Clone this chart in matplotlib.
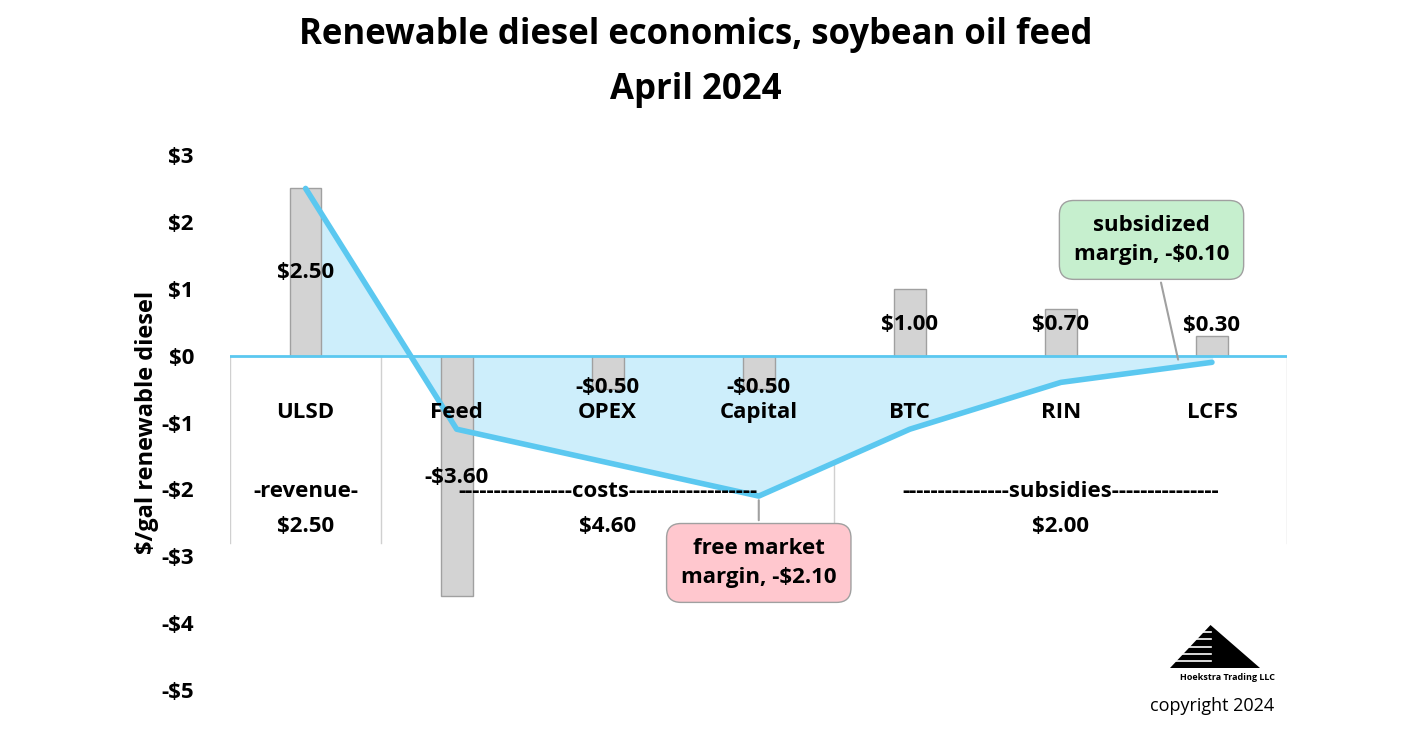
import matplotlib
matplotlib.use('Agg')
import matplotlib.pyplot as plt
import numpy as np
from matplotlib.patches import Polygon

plt.rcParams['font.family'] = ['Open Sans', 'DejaVu Sans']

categories = ['ULSD', 'Feed', 'OPEX', 'Capital', 'BTC', 'RIN', 'LCFS']
values = [2.50, -3.60, -0.50, -0.50, 1.00, 0.70, 0.30]
value_labels = ['$2.50', '-$3.60', '-$0.50', '-$0.50', '$1.00', '$0.70', '$0.30']
label_y = [1.24, -1.82, -0.48, -0.48, 0.46, 0.46, 0.45]
yticks = [3, 2, 1, 0, -1, -2, -3, -4, -5]
ytick_labels = ['$3', '$2', '$1', '$0', '-$1', '-$2', '-$3', '-$4', '-$5']

cum = np.cumsum(values)
x = np.arange(len(categories))

fig = plt.figure(figsize=(14.08, 7.38), dpi=100)
ax = fig.add_axes([0.1634, 0.065, 0.751, 0.725])
ax.set_xlim(-0.5, 6.5)
ax.set_ylim(-5, 3)

# table-like grid lines
for xv in [-0.5, 0.5, 3.5, 6.5]:
    ax.plot([xv, xv], [0, -2.8], color='#d0d0d0', lw=1, zorder=1)

ax.fill_between(x, cum, 0, color='#cdeefb', zorder=1)
ax.bar(x, values, width=0.21, color='#d3d3d3', edgecolor='#a0a0a0', lw=1, zorder=2)
ax.plot([-0.5, 6.5], [0, 0], color='#5bc8f0', lw=2, zorder=3)
ax.plot(x, cum, color='#5bc8f0', lw=4, zorder=3, solid_capstyle='round')

fs = 16
for xi, lab, ly in zip(x, value_labels, label_y):
    ax.text(xi, ly, lab, ha='center', va='center', fontsize=fs, fontweight='bold', zorder=5)
for xi, c in zip(x, categories):
    ax.text(xi, -0.85, c, ha='center', va='center', fontsize=fs, fontweight='bold', zorder=5)

ax.text(0, -2.03, '-revenue-', ha='center', va='center', fontsize=fs, fontweight='bold')
ax.text(0, -2.55, '$2.50', ha='center', va='center', fontsize=fs, fontweight='bold')
ax.text(2, -2.03, '----------------costs------------------', ha='center', va='center', fontsize=fs, fontweight='bold')
ax.text(2, -2.55, '$4.60', ha='center', va='center', fontsize=fs, fontweight='bold')
ax.text(5, -2.03, '---------------subsidies---------------', ha='center', va='center', fontsize=fs, fontweight='bold')
ax.text(5, -2.55, '$2.00', ha='center', va='center', fontsize=fs, fontweight='bold')

ax.annotate('subsidized\nmargin, -$0.10', xy=(5.78, -0.1), xytext=(5.6, 1.73),
            ha='center', va='center', fontsize=fs, fontweight='bold', linespacing=1.5,
            bbox=dict(boxstyle='round,pad=0.65', fc='#c6efce', ec='#a0a0a0'),
            arrowprops=dict(arrowstyle='-', color='#a0a0a0', lw=1.5), zorder=6)
ax.annotate('free market\nmargin, -$2.10', xy=(3.0, -2.12), xytext=(3.0, -3.1),
            ha='center', va='center', fontsize=fs, fontweight='bold', linespacing=1.5,
            bbox=dict(boxstyle='round,pad=0.65', fc='#ffc7ce', ec='#a0a0a0'),
            arrowprops=dict(arrowstyle='-', color='#a0a0a0', lw=1.5), zorder=6)

ax.set_xticks([])
ax.set_yticks(yticks)
ax.set_yticklabels(ytick_labels, fontsize=fs, fontweight='bold')
ax.tick_params(axis='y', length=0, pad=26)
for s in ax.spines.values():
    s.set_visible(False)
ax.set_ylabel('$/gal renewable diesel', fontsize=17, fontweight='bold', labelpad=2)

fig.text(0.494, 0.952, 'Renewable diesel economics, soybean oil feed', ha='center', va='center',
         fontsize=25, fontweight='bold')
fig.text(0.494, 0.878, 'April 2024', ha='center', va='center', fontsize=25, fontweight='bold')

# logo
lx0, lx1, ly0, ly1 = 1170 / 1408, 1260 / 1408, 1 - 668 / 738, 1 - 625 / 738
tri = Polygon([[lx0, ly0], [lx1, ly0], [lx0 + 0.45 * (lx1 - lx0), ly1]], closed=True,
              fc='black', transform=fig.transFigure)
fig.patches.append(tri)
for k in range(1, 6):
    yy = ly0 + k * (ly1 - ly0) / 6
    fig.lines.append(plt.Line2D([lx0, lx0 + 0.45 * (lx1 - lx0)], [yy, yy], color='white', lw=1.2,
                                transform=fig.transFigure))
fig.text(1227 / 1408, 1 - 678 / 738, 'Hoekstra Trading LLC', ha='center', va='center', fontsize=6.5,
         fontweight='bold')
fig.text(1212 / 1408, 1 - 706 / 738, 'copyright 2024', ha='center', va='center', fontsize=13)

fig.savefig('out.png', dpi=100)
